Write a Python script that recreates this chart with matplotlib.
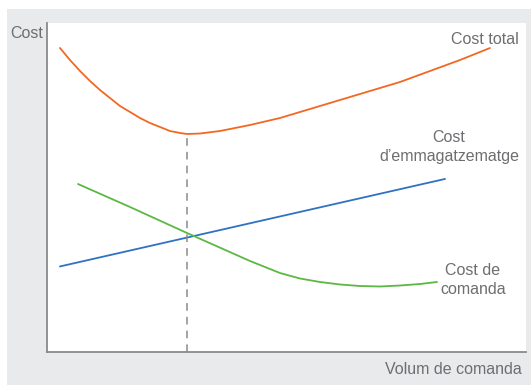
import matplotlib
matplotlib.use("Agg")
import matplotlib.pyplot as plt
from matplotlib.patches import Rectangle

W, H = 531, 385

# Data (x: 0-100 order volume scale, y: 0-100 cost scale)
total_x = [2.71, 4.80, 6.89, 8.98, 11.06, 13.15, 15.24, 17.33, 19.42, 21.50, 23.59,
           25.68, 27.77, 29.23, 31.94, 36.12, 42.38, 48.64, 54.91, 61.17, 67.43,
           73.70, 79.96, 86.22, 92.48]
total_y = [92.40, 88.75, 85.41, 82.37, 79.64, 77.20, 74.77, 72.95, 71.12, 69.60, 68.39,
           67.17, 66.57, 66.26, 66.41, 67.17, 69.00, 71.12, 73.86, 76.60, 79.33,
           82.07, 85.41, 88.75, 92.40]

storage_x = [2.7, 83.1]
storage_y = [26.0, 52.6]

order_x = [6.47, 17.33, 29.23, 42.38, 48.64, 52.82, 56.99, 61.17, 65.34, 69.52,
           73.70, 77.87, 81.42]
order_y = [51.06, 44.07, 36.17, 27.66, 24.01, 22.34, 21.28, 20.52, 20.06, 19.91,
           20.21, 20.67, 21.28]

optimum_x = 29.23
optimum_y = 66.26

label_y = "Cost"
label_x = "Volum de comanda"
name_total = "Cost total"
name_storage = "Cost\nd\u2019emmagatzematge"
name_order = "Cost de\ncomanda"

c_total = "#f36821"
c_storage = "#2e73c2"
c_order = "#5bb842"
c_text = "#6d6e71"
c_axis = "#8a8a8a"
c_panel = "#e9eaec"

plt.rcParams['font.family'] = ['Liberation Sans', 'DejaVu Sans']

fig = plt.figure(figsize=(W / 100, H / 100), dpi=100)
fig.patch.set_facecolor("white")
fig.patches.append(Rectangle((7 / W, 0), 1 - 7 / W, (H - 9) / H,
                             transform=fig.transFigure, facecolor=c_panel,
                             edgecolor="none", zorder=-5))

ax = fig.add_axes([47 / W, (H - 352) / H, (526 - 47) / W, (352 - 23) / H])
ax.set_zorder(2)
ax.set_facecolor("white")
ax.set_xlim(0, 100)
ax.set_ylim(0, 100)
for s in ["top", "right"]:
    ax.spines[s].set_visible(False)
for s in ["left", "bottom"]:
    ax.spines[s].set_color(c_axis)
    ax.spines[s].set_linewidth(1.3)
ax.set_xticks([])
ax.set_yticks([])

lw = 1.3
ax.plot(total_x, total_y, color=c_total, lw=lw, solid_capstyle="round",
        solid_joinstyle="round")
ax.plot(storage_x, storage_y, color=c_storage, lw=lw, solid_capstyle="round")
ax.plot(order_x, order_y, color=c_order, lw=lw, solid_capstyle="round",
        solid_joinstyle="round")
ax.plot([optimum_x, optimum_x], [0, optimum_y], color=c_axis, lw=1.1,
        dashes=(5, 4))

fs = 11.5
def px(x, y):
    return x / W, 1 - y / H

kw = dict(color=c_text, fontsize=fs, zorder=10)
fig.text(*px(10, 34), label_y, ha="left", va="center", **kw)
fig.text(*px(522, 370), label_x, ha="right", va="center", **kw)
fig.text(*px(519, 39), name_total, ha="right", va="center", **kw)
fig.text(*px(449, 147), name_storage, ha="center", va="center",
         multialignment="center", linespacing=1.4, **kw)
fig.text(*px(473, 280), name_order, ha="center", va="center",
         multialignment="center", linespacing=1.4, **kw)

fig.savefig("out.png", dpi=100, facecolor=fig.get_facecolor())
